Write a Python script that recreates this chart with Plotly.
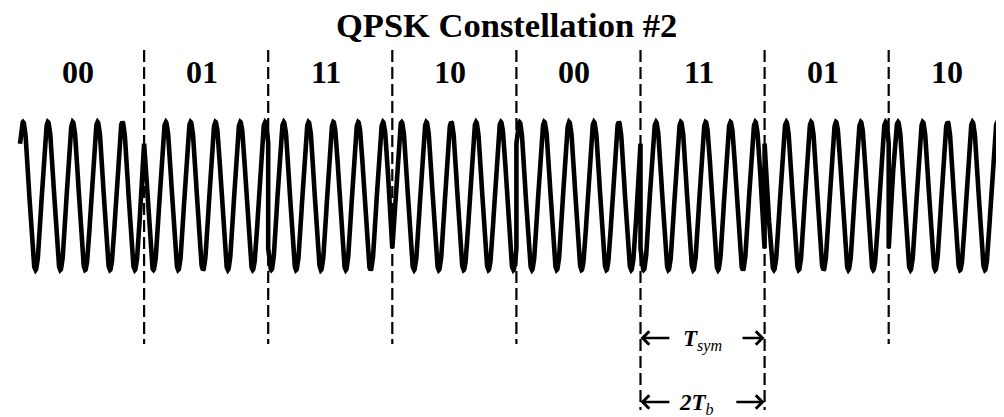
import numpy as np
import plotly.graph_objects as go

# ---- data ----
symbol_bits = ["00", "01", "11", "10", "00", "11", "01", "10"]
constellation_bits = ["00", "01", "11", "10"]
constellation_phase_deg = [-45, 45, 135, 225]
cycles_per_symbol = 5
title_text = "QPSK Constellation #2"
tsym_label = "<b><i>T</i></b><i><sub>sym</sub></i>"
tb_label = "<b><i>2T</i></b><i><sub>b</sub></i>"

# ---- build waveform from the symbol sequence ----
phase_of = dict(zip(constellation_bits, constellation_phase_deg))
ts, ss = [], []
for k, b in enumerate(symbol_bits):
    t = np.linspace(k, k + 1, 500)
    s = np.cos(2 * np.pi * cycles_per_symbol * (t - k) + np.deg2rad(phase_of[b]))
    ts.extend(t.tolist())
    ss.extend(s.tolist())

# ---- layout geometry (page pixels -> data); page body has an 8px margin ----
OFF = 8
W, H = 1004 - OFF, 417 - OFF
x0_px, sym_px = 20.0 - OFF, 124.1
ymid_px, amp_px = 196.0 - OFF, 74.0
def px_to_y(p):
    return (ymid_px - (p - OFF)) / amp_px
def px_to_x(p):
    return ((p - OFF) - x0_px) / sym_px

xr = [(0 - x0_px) / sym_px, (W - x0_px) / sym_px]
yr = [(ymid_px - H) / amp_px, ymid_px / amp_px]

fig = go.Figure()
fig.add_trace(go.Scatter(x=ts, y=ss, mode="lines",
                         line=dict(color="black", width=4.6),
                         hoverinfo="skip", showlegend=False))

font_fam = "Liberation Serif, Times New Roman, serif"
shapes = []
n = len(symbol_bits)
for k in range(1, n):
    long_line = k in (5, 6)
    shapes.append(dict(type="line", xref="x", yref="y",
                       x0=k, x1=k, y0=px_to_y(50),
                       y1=px_to_y(410 if long_line else 344),
                       line=dict(color="black", width=2.2, dash="12px,5px"),
                       layer="below"))

annotations = []
annotations.append(dict(text="<b>" + title_text + "</b>", xref="x", yref="y",
                        x=px_to_x(506), y=px_to_y(25),
                        showarrow=False, xanchor="center", yanchor="middle",
                        font=dict(family=font_fam, size=34.5, color="black")))
for k, b in enumerate(symbol_bits):
    annotations.append(dict(text="<b>" + b + "</b>", xref="x", yref="y",
                            x=k + 0.5, y=px_to_y(72), xshift=-4,
                            showarrow=False, xanchor="center", yanchor="middle",
                            font=dict(family=font_fam, size=32, color="black")))

# T_sym / 2T_b dimension marks between boundaries 5 and 6
ks, ke = 5, 6
rows = [(px_to_y(338), tsym_label, 0.245, 0.19, 0.0),
        (px_to_y(402), tb_label, 0.245, 0.24, -6)]
for yv, lab, llen, rlen, tshift in rows:
    annotations.append(dict(x=ks, y=yv, ax=ks + llen, ay=yv, xref="x", yref="y",
                            axref="x", ayref="y", text="", showarrow=True,
                            arrowhead=4, arrowsize=1.0, arrowwidth=2.6,
                            arrowcolor="black"))
    annotations.append(dict(x=ke, y=yv, ax=ke - rlen, ay=yv, xref="x", yref="y",
                            axref="x", ayref="y", text="", showarrow=True,
                            arrowhead=4, arrowsize=1.0, arrowwidth=2.6,
                            arrowcolor="black"))
    annotations.append(dict(text=lab, xref="x", yref="y",
                            x=(ks + ke) / 2, y=yv, xshift=tshift, yshift=-2,
                            showarrow=False, xanchor="center", yanchor="middle",
                            font=dict(family=font_fam, size=23, color="black")))

fig.update_layout(
    width=W, height=H,
    margin=dict(l=0, r=0, t=0, b=0),
    paper_bgcolor="white", plot_bgcolor="white",
    xaxis=dict(range=xr, visible=False, fixedrange=True),
    yaxis=dict(range=yr, visible=False, fixedrange=True),
    shapes=shapes, annotations=annotations,
    showlegend=False,
)
fig.write_html("out.html")
